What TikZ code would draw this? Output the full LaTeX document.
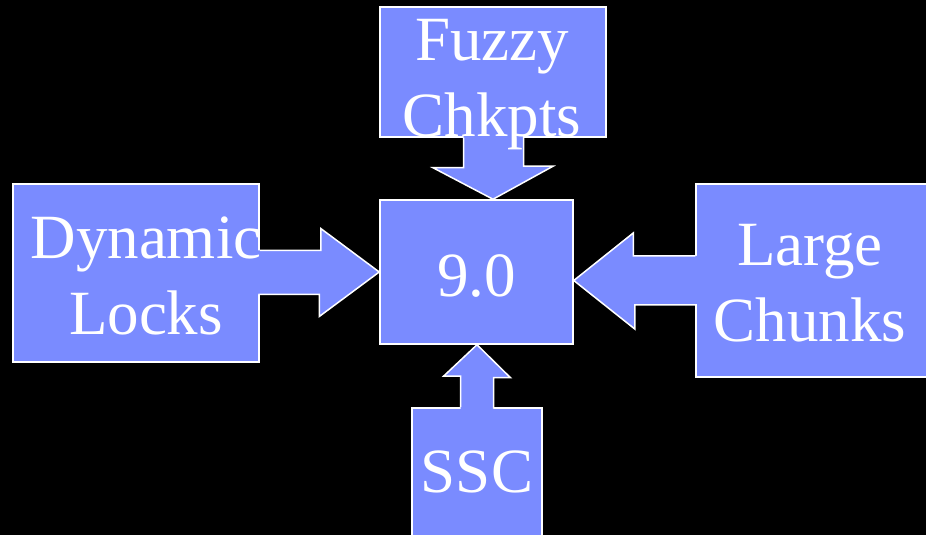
\documentclass[tikz,border=0pt]{standalone}
\usepackage{fontspec}
\setmainfont{Liberation Serif}
\usetikzlibrary{calc}
\definecolor{boxblue}{RGB}{122,139,255}
\tikzset{
    box/.style={draw=white, fill=boxblue, line width=1.5pt, inner sep=0pt},
    lbl/.style={text=white, align=center, anchor=base, inner sep=0pt,
        font=\fontsize{63}{76}\selectfont},
    arrline/.style={draw=white, line width=1.5pt}
}
\begin{document}
\begin{tikzpicture}[x=1pt, y=1pt]
    \fill[black] (0,0) rectangle (926,535);
    \useasboundingbox (0,0) rectangle (926,535);
    % boxes
    \node[box, minimum width=193pt, minimum height=144pt] (core) at (476.5,263) {};
    \node[box, minimum width=226pt, minimum height=130pt] (fuzzy) at (493,463) {};
    \node[box, minimum width=246pt, minimum height=178pt] (dyn) at (136,262) {};
    \node[box, minimum width=234pt, minimum height=193pt] (large) at (813,254.5) {};
    \node[box, minimum width=130pt, minimum height=137pt] (ssc) at (477,58.5) {};
    % arrows into 9.0
    \fill[boxblue] ($(dyn.east)+(-2,22.5)$) -- ++(63,0) -- ++(0,22) -- (core.west)
        -- ++(-60,-44.5) -- ++(0,22) -- ++(-63,0) -- cycle;
    \draw[arrline] ($(dyn.east)+(0,22.5)$) -- ++(61,0) -- ++(0,22) -- (core.west)
        -- ++(-60,-44.5) -- ++(0,22) -- ++(-61,0);
    \fill[boxblue] ($(large.west)+(2,24.5)$) -- ++(-64,0) -- ++(0,23) -- (core.east |- large.west)
        -- ++(61,-48.5) -- ++(0,24) -- ++(64,0) -- cycle;
    \draw[arrline] ($(large.west)+(0,24.5)$) -- ++(-62,0) -- ++(0,23) -- (core.east |- large.west)
        -- ++(61,-48.5) -- ++(0,24) -- ++(62,0);
    \fill[boxblue] ($(fuzzy.south)+(-29.5,2)$) -- ++(0,-32) -- ++(-30.5,0) -- (fuzzy.south |- core.north)
        -- ++(60,33) -- ++(-29.5,0) -- ++(0,32) -- cycle;
    \draw[arrline] ($(fuzzy.south)+(-29.5,0)$) -- ++(0,-30) -- ++(-30.5,0) -- (fuzzy.south |- core.north)
        -- ++(60,33) -- ++(-29.5,0) -- ++(0,30);
    \fill[boxblue] ($(ssc.north)+(-16.5,-2)$) -- ++(0,33) -- ++(-17,0) -- (ssc.north |- core.south)
        -- ++(33.5,-33) -- ++(-17,0) -- ++(0,-33) -- cycle;
    \draw[arrline] ($(ssc.north)+(-16.5,0)$) -- ++(0,31) -- ++(-17,0) -- (ssc.north |- core.south)
        -- ++(33.5,-33) -- ++(-17,0) -- ++(0,-31);
    % labels
    \node[lbl] (coretext) at (476.5,238) {9.0};
    \node[lbl] (fuzzytext) at (492,398) {Fuzzy\\Chkpts};
    \node[lbl] (dyntext) at (146,200) {Dynamic\\Locks};
    \node[lbl] (largetext) at (810,193) {Large\\Chunks};
    \node[lbl] (ssctext) at (477,42) {SSC};
\end{tikzpicture}
\end{document}
